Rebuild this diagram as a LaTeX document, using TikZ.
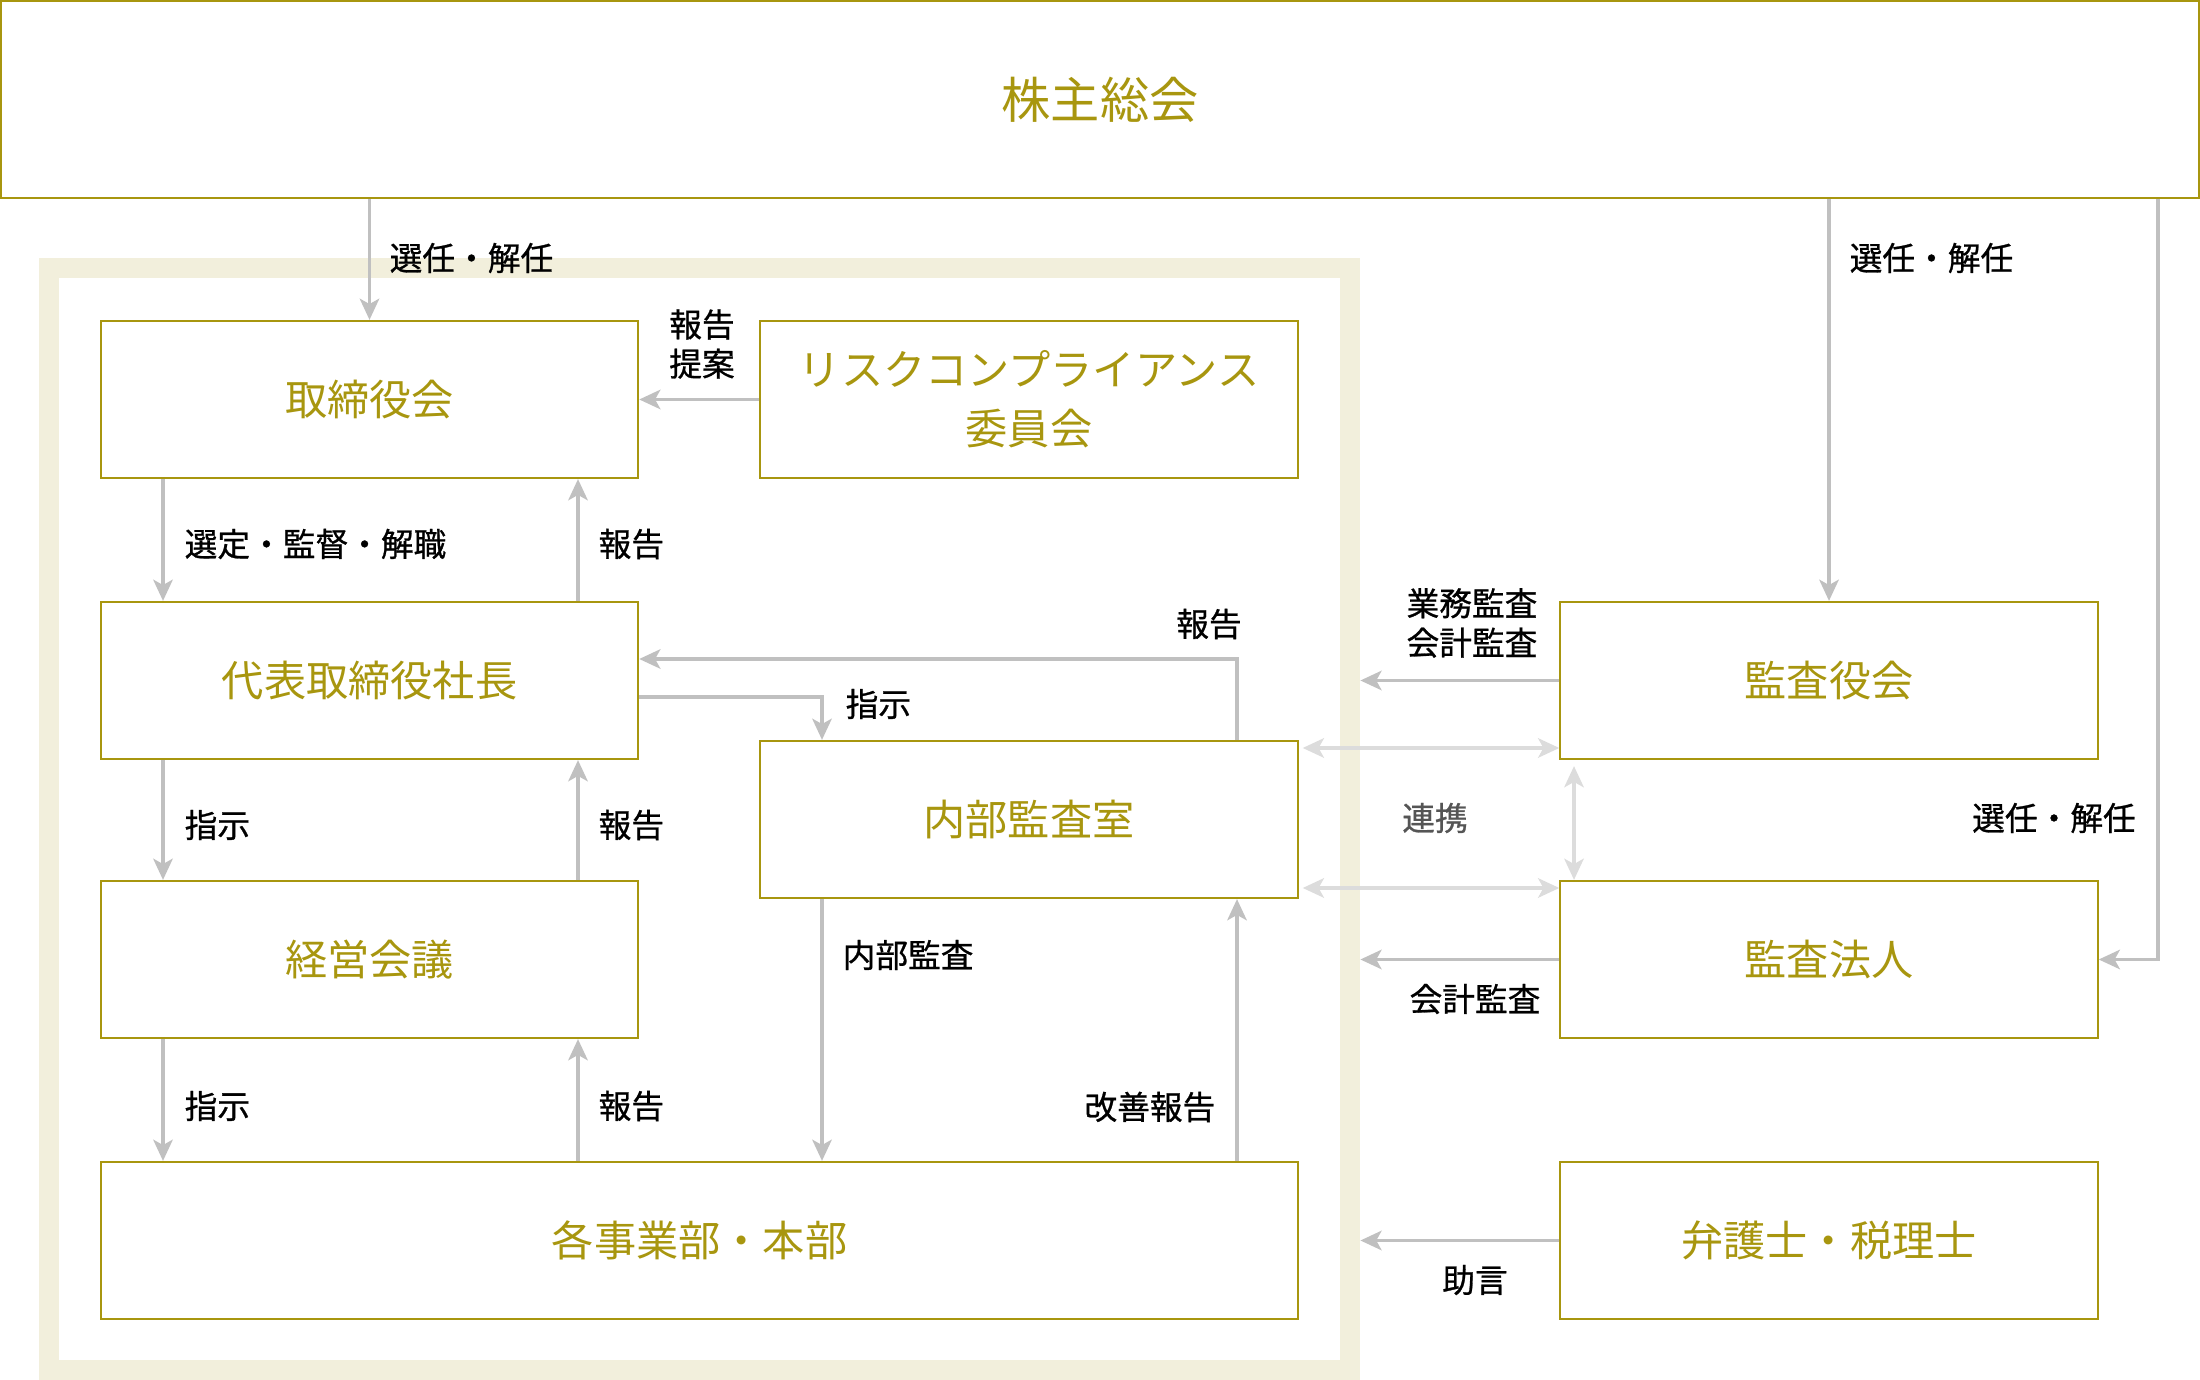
\documentclass[tikz,border=0pt]{standalone}
\usepackage{fontspec}
\setmainfont{Noto Sans CJK JP}
\newfontfamily\lblfont{Noto Sans CJK JP}[FakeBold=0.8]
\usetikzlibrary{arrows.meta}
\definecolor{kin}{HTML}{A8960F}
\definecolor{waku}{HTML}{F2EFDC}
\definecolor{hai}{HTML}{C0C0C0}
\definecolor{usuhai}{HTML}{DCDCDC}
\definecolor{sumi}{HTML}{555555}
\begin{document}
\begin{tikzpicture}[x=0.01cm,y=-0.01cm,
  box/.style={draw=kin, line width=0.6pt, text=kin, minimum width=5.37cm, minimum height=1.57cm,
    font=\fontsize{12}{16.7}\selectfont, align=center, inner sep=0pt},
  lbl/.style={font=\lblfont\fontsize{9.3}{11.2}\selectfont, inner sep=0pt, align=center},
  arr/.style={draw=hai, line width=1.1pt, -{Stealth[length=6pt,width=5.5pt,inset=1.5pt]}},
  ren/.style={draw=usuhai, line width=1.1pt,
    {Stealth[length=6pt,width=5.5pt,inset=1.5pt]}-{Stealth[length=6pt,width=5.5pt,inset=1.5pt]}}]
\useasboundingbox (0,0) rectangle (2200,1380);
\node[draw=waku, line width=0.2cm, minimum width=13.01cm, minimum height=11.02cm, inner sep=0pt] (grp) at (699.5,819) {};
\node[box, minimum width=21.97cm, minimum height=1.97cm, font=\fontsize{14}{16}\selectfont] (soukai) at (1100,99.5) {株主総会};
\node[box] (tori) at (369.5,399.5) {取締役会};
\node[box] (risk) at (1029,399.5) {リスクコンプライアンス\\委員会};
\node[box] (daihyo) at (369.5,680.5) {代表取締役社長};
\node[box] (naibu) at (1029,819.5) {内部監査室};
\node[box] (keiei) at (369.5,959.5) {経営会議};
\node[box, minimum width=11.97cm] (jigyo) at (699.5,1240.5) {各事業部・本部};
\node[box] (kansa) at (1829,680.5) {監査役会};
\node[box] (houjin) at (1829,959.5) {監査法人};
\node[box] (bengo) at (1829,1240.5) {弁護士・税理士};
% guide lines
\coordinate (xa) at (163,0);
\coordinate (xb) at (578,0);
\coordinate (xc) at (822,0);
\coordinate (xd) at (1237,0);
\coordinate (xe) at (1574,0);
\coordinate (xf) at (2158,0);
\coordinate (ya) at (0,697);
\coordinate (yb) at (0,659);
\coordinate (yc) at (0,748);
\coordinate (yd) at (0,888);
% shareholders
\draw[arr] (soukai.south -| tori) -- (tori.north);
\draw[arr] (soukai.south -| kansa) -- (kansa.north);
\draw[arr] (soukai.south -| xf) |- (houjin.east);
\draw[arr] (risk.west) -- (tori.east);
% chain of command
\draw[arr] (tori.south -| xa) -- (daihyo.north -| xa);
\draw[arr] (daihyo.north -| xb) -- (tori.south -| xb);
\draw[arr] (daihyo.south -| xa) -- (keiei.north -| xa);
\draw[arr] (keiei.north -| xb) -- (daihyo.south -| xb);
\draw[arr] (keiei.south -| xa) -- (jigyo.north -| xa);
\draw[arr] (jigyo.north -| xb) -- (keiei.south -| xb);
\draw[arr] (daihyo.east |- ya) -| (naibu.north -| xc);
\draw[arr] (naibu.north -| xd) |- (daihyo.east |- yb);
\draw[arr] (naibu.south -| xc) -- (jigyo.north -| xc);
\draw[arr] (jigyo.north -| xd) -- (naibu.south -| xd);
% outside
\draw[arr] (kansa.west) -- (kansa.west -| grp.east);
\draw[arr] (houjin.west) -- (houjin.west -| grp.east);
\draw[arr] (bengo.west) -- (bengo.west -| grp.east);
\draw[ren, shorten <=0.04cm] (naibu.east |- yc) -- (kansa.west |- yc);
\draw[ren, shorten <=0.04cm] (naibu.east |- yd) -- (houjin.west |- yd);
\draw[ren, shorten <=0.06cm] (kansa.south -| xe) -- (houjin.north -| xe);
% labels
\node[lbl, anchor=west] (l1) at (389,258) {選任・解任};
\node[lbl, anchor=west] (l2) at (1849,258) {選任・解任};
\node[lbl] (l3) at (2054,818) {選任・解任};
\node[lbl] (l4) at (702,344) {報告\\提案};
\node[lbl, anchor=west] (l5) at (184,544) {選定・監督・解職};
\node[lbl, anchor=west] (l6) at (598,544) {報告};
\node[lbl, anchor=west] (l7) at (184,825) {指示};
\node[lbl, anchor=west] (l8) at (598,825) {報告};
\node[lbl, anchor=west] (l9) at (184,1106) {指示};
\node[lbl, anchor=west] (l10) at (598,1106) {報告};
\node[lbl, anchor=west] (l11) at (845,704) {指示};
\node[lbl] (l12) at (1209,624) {報告};
\node[lbl, anchor=west] (l13) at (842,955) {内部監査};
\node[lbl, anchor=east] (l14) at (1216,1107) {改善報告};
\node[lbl] (l15) at (1472,623) {業務監査\\会計監査};
\node[lbl] (l16) at (1475,999) {会計監査};
\node[lbl] (l17) at (1475,1280) {助言};
\node[lbl, text=sumi] (l18) at (1435,818) {連携};
\end{tikzpicture}
\end{document}
